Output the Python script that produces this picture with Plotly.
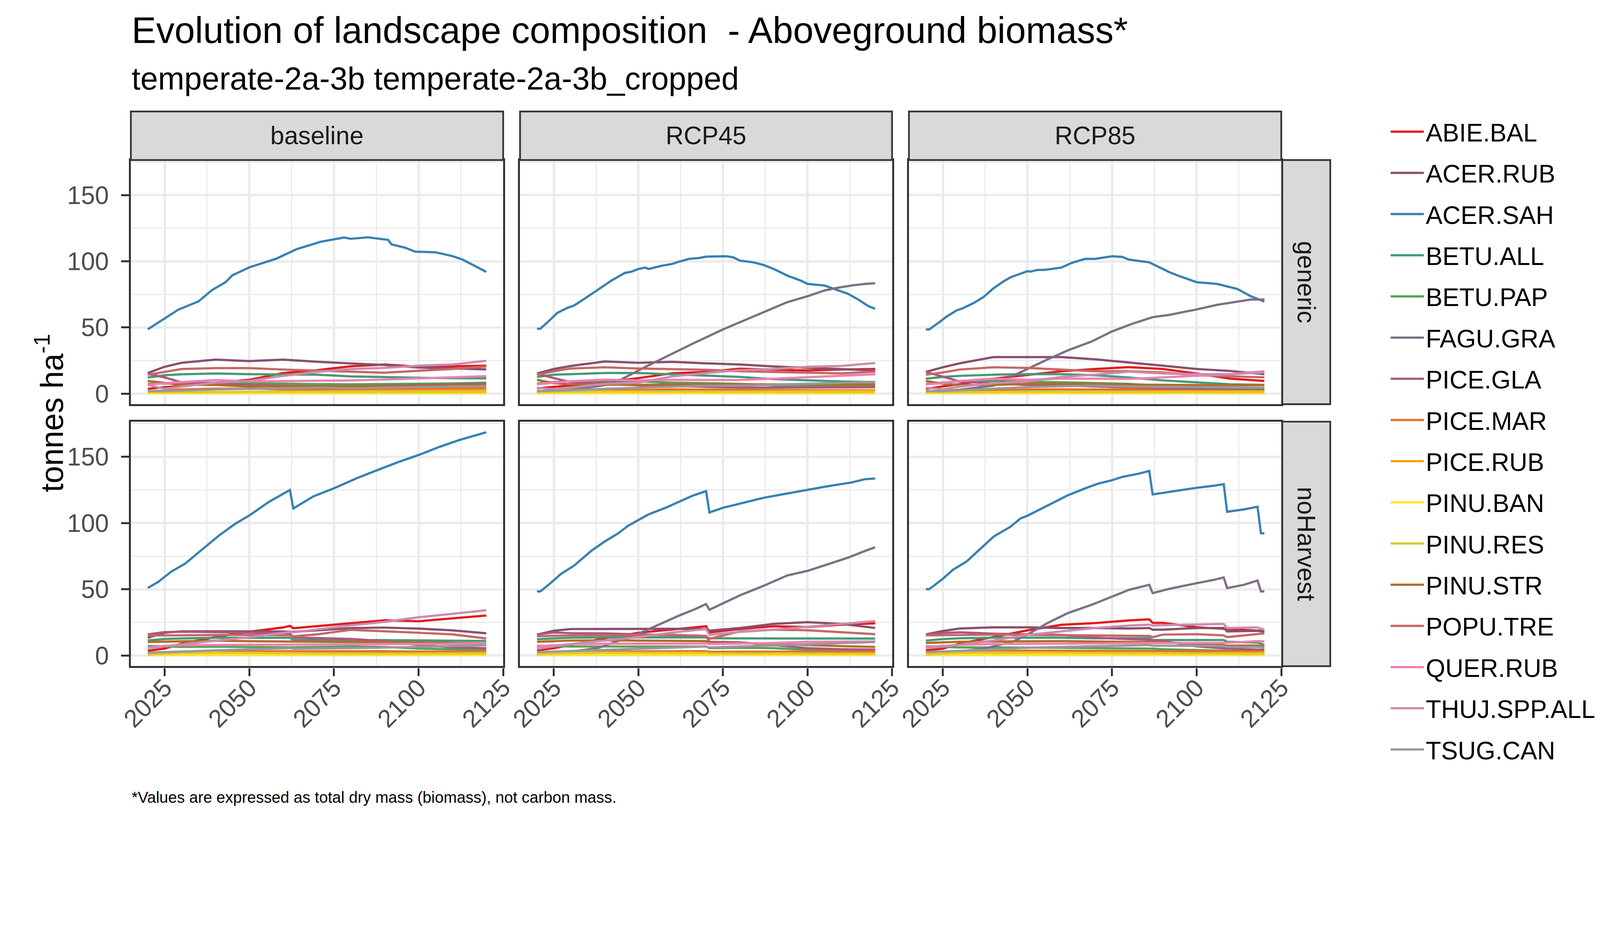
import plotly.graph_objects as go

FONT = "Liberation Sans, Arial, sans-serif"

# target picture is 4800 x 2400 device px; the page seems to render at ~1.138 device px per CSS px
S = 1 / 1.138
W = int(4800 * S) - 20
H = int(2400 * S) - 20

SPECIES = ["ABIE.BAL", "ACER.RUB", "ACER.SAH", "BETU.ALL", "BETU.PAP", "FAGU.GRA",
           "PICE.GLA", "PICE.MAR", "PICE.RUB", "PINU.BAN", "PINU.RES", "PINU.STR",
           "POPU.TRE", "QUER.RUB", "THUJ.SPP.ALL", "TSUG.CAN"]
COLORS = ["#E41A1C", "#884F6F", "#3881B1", "#449B76", "#57A256", "#7F6E85",
          "#AC5782", "#E3712B", "#FFA10E", "#FFE529", "#E1C72F", "#B26C29",
          "#C66764", "#F27EB5", "#CB8CAD", "#999999"]
SCENARIOS = ["baseline", "RCP45", "RCP85"]
MANAGEMENT = ["generic", "noHarvest"]

# ---- baseline / generic ----
years_base_gen = [2020, 2025, 2030, 2040, 2050, 2060, 2070, 2080, 2090, 2100, 2110, 2120]
base_gen = {
    "ABIE.BAL": [3.6, 4.9, 5.7, 8.3, 10.4, 15.6, 17.7, 20.7, 22.0, 20.3, 20.7, 21.1],
    "ACER.RUB": [15.6, 20.3, 23.3, 25.7, 24.6, 25.7, 24.1, 22.9, 21.6, 19.7, 19.2, 18.3],
    "BETU.ALL": [12.2, 13.9, 14.6, 15.2, 14.7, 14.7, 14.3, 13.0, 12.3, 12.0, 11.7, 11.5],
    "BETU.PAP": [7.4, 7.7, 7.9, 8.3, 7.9, 7.4, 7.2, 7.0, 7.2, 7.4, 7.7, 8.3],
    "PICE.GLA": [15.0, 12.2, 8.5, 7.5, 6.5, 6.0, 5.5, 5.5, 6.0, 6.5, 7.0, 7.4],
    "PICE.MAR": [1.5, 2.3, 3.2, 3.8, 3.8, 3.2, 2.9, 2.7, 3.2, 3.4, 3.8, 4.0],
    "PICE.RUB": [0.5, 0.6, 0.8, 1.0, 1.2, 1.3, 1.4, 1.5, 1.7, 2.0, 2.3, 2.6],
    "PINU.BAN": [0.3, 0.3, 0.3, 0.3, 0.3, 0.3, 0.3, 0.3, 0.3, 0.3, 0.3, 0.3],
    "PINU.RES": [1.0, 1.1, 1.3, 1.5, 1.6, 1.5, 1.5, 1.4, 1.4, 1.3, 1.2, 1.2],
    "PINU.STR": [9.6, 7.9, 6.6, 6.6, 5.3, 5.7, 5.7, 5.3, 5.7, 5.7, 6.2, 6.2],
    "POPU.TRE": [14.3, 16.4, 18.6, 19.3, 19.3, 18.2, 17.3, 16.4, 15.8, 17.3, 18.6, 20.5],
    "QUER.RUB": [6.6, 8.0, 8.7, 10.3, 9.2, 9.4, 9.6, 10.0, 10.6, 11.5, 12.3, 13.2],
    "THUJ.SPP.ALL": [6.6, 3.6, 5.3, 8.3, 9.6, 13.4, 16.4, 18.6, 19.4, 21.1, 22.0, 24.8],
    "TSUG.CAN": [1.9, 1.9, 2.3, 3.2, 3.8, 4.0, 4.5, 4.0, 4.5, 4.9, 5.3, 5.7],
}
acer_sah_base_gen_years = [2020, 2024, 2029, 2035, 2039, 2043, 2045, 2050, 2054, 2058, 2064, 2068,
                           2071, 2078, 2080, 2085, 2091, 2092, 2096, 2099, 2105, 2110, 2113, 2120]
acer_sah_base_gen = [48.6, 55.3, 63.4, 69.7, 78.3, 84.2, 89.4, 95.4, 98.8, 102.0, 109.2, 112.5,
                     114.7, 118.0, 117.0, 118.1, 116.2, 112.8, 110.3, 107.3, 106.8, 103.9, 101.3, 92.0]
fagu_gra_base_gen_years = years_base_gen
fagu_gra_base_gen = [0.7, 0.8, 0.9, 1.1, 1.3, 1.5, 1.7, 1.9, 2.1, 2.3, 2.5, 2.7]

# ---- baseline / noHarvest ----
years_base_noh = [2020, 2025, 2030, 2040, 2050, 2060, 2062, 2063, 2070, 2080, 2090, 2100, 2110, 2120]
base_noh = {
    "ABIE.BAL": [3.6, 5.3, 9.0, 14.0, 18.0, 21.2, 22.4, 20.6, 22.2, 24.3, 26.6, 25.9, 28.0, 30.2],
    "ACER.RUB": [13.4, 17.2, 18.3, 18.5, 18.3, 18.1, 18.1, 17.9, 19.0, 20.7, 21.1, 20.3, 19.0, 16.8],
    "BETU.ALL": [11.4, 12.5, 12.9, 13.4, 13.4, 13.4, 13.4, 11.8, 11.6, 11.6, 11.6, 11.4, 11.2, 11.0],
    "BETU.PAP": [7.3, 6.9, 6.5, 6.7, 6.5, 6.5, 6.5, 6.2, 6.5, 6.9, 6.5, 5.3, 4.7, 4.3],
    "PICE.GLA": [16.0, 17.7, 18.0, 17.5, 17.2, 17.0, 16.8, 13.6, 13.3, 12.5, 10.8, 8.0, 6.2, 5.6],
    "PICE.MAR": [1.6, 2.2, 2.6, 3.0, 3.3, 3.3, 3.3, 3.2, 3.3, 3.3, 3.3, 3.0, 3.0, 3.0],
    "PICE.RUB": [0.5, 0.5, 0.6, 0.7, 0.8, 0.9, 0.9, 0.9, 1.0, 1.1, 1.2, 1.5, 1.7, 2.0],
    "PINU.BAN": [0.4, 0.4, 0.4, 0.4, 0.4, 0.4, 0.4, 0.4, 0.4, 0.4, 0.4, 0.4, 0.4, 0.4],
    "PINU.RES": [0.9, 1.3, 1.9, 2.2, 2.2, 2.1, 2.1, 1.8, 1.6, 1.6, 1.6, 1.3, 1.4, 1.5],
    "PINU.STR": [10.2, 10.5, 10.8, 11.2, 10.8, 10.6, 10.5, 10.3, 10.3, 10.2, 10.2, 9.9, 9.5, 9.1],
    "POPU.TRE": [15.1, 15.3, 15.5, 15.5, 15.5, 15.3, 15.3, 14.5, 16.0, 19.4, 18.5, 17.2, 16.0, 12.9],
    "QUER.RUB": [6.2, 7.3, 7.8, 8.2, 8.2, 8.2, 8.2, 8.1, 8.4, 8.6, 8.6, 8.6, 8.8, 9.1],
    "THUJ.SPP.ALL": [5.6, 7.1, 8.6, 11.2, 13.8, 17.2, 17.8, 17.5, 19.8, 22.8, 25.4, 28.9, 31.5, 34.2],
    "TSUG.CAN": [2.2, 2.8, 3.0, 3.9, 4.5, 5.2, 5.6, 5.1, 5.2, 5.6, 6.0, 6.5, 7.1, 7.8],
}
acer_sah_base_noh_years = [2020, 2023, 2027, 2031, 2036, 2041, 2046, 2050, 2056, 2062, 2063, 2069,
                           2075, 2082, 2088, 2094, 2100, 2106, 2112, 2120]
acer_sah_base_noh = [51.0, 55.4, 63.4, 69.3, 79.9, 90.5, 99.7, 105.7, 116.3, 124.9, 111.0, 120.2,
                     126.2, 134.1, 140.1, 146.0, 151.3, 157.3, 162.6, 168.5]
fagu_gra_base_noh_years = years_base_noh
fagu_gra_base_noh = [0.8, 1.0, 1.1, 1.3, 1.5, 1.7, 1.7, 1.6, 1.9, 2.1, 2.3, 2.5, 2.7, 2.9]

# ---- RCP45 / generic ----
years_r45_gen = [2020, 2025, 2030, 2040, 2050, 2060, 2070, 2080, 2090, 2100, 2110, 2120]
r45_gen = {
    "ABIE.BAL": [4.0, 5.3, 6.2, 8.7, 11.7, 15.4, 16.4, 18.8, 18.3, 17.5, 18.2, 18.6],
    "ACER.RUB": [15.2, 18.6, 20.9, 24.3, 23.3, 24.0, 22.9, 22.0, 20.5, 19.4, 18.2, 17.5],
    "BETU.ALL": [12.6, 14.3, 14.7, 15.6, 15.6, 14.7, 13.9, 12.6, 10.9, 10.0, 9.2, 8.7],
    "BETU.PAP": [7.7, 8.7, 9.2, 9.6, 9.2, 8.3, 7.9, 7.4, 6.2, 5.7, 5.7, 6.2],
    "PICE.GLA": [15.2, 11.7, 8.7, 7.4, 6.2, 5.7, 4.9, 4.5, 4.5, 4.5, 4.5, 4.9],
    "PICE.MAR": [1.2, 1.5, 1.9, 2.6, 2.7, 3.2, 3.0, 2.7, 2.7, 2.6, 2.6, 2.6],
    "PICE.RUB": [0.5, 0.6, 0.7, 0.9, 1.1, 1.3, 1.5, 1.7, 1.9, 2.0, 2.2, 2.3],
    "PINU.BAN": [0.3, 0.3, 0.3, 0.3, 0.3, 0.3, 0.3, 0.3, 0.3, 0.3, 0.3, 0.3],
    "PINU.RES": [1.0, 1.3, 1.5, 1.6, 1.5, 1.5, 1.4, 1.3, 1.2, 1.2, 1.2, 1.2],
    "PINU.STR": [10.4, 7.9, 7.0, 6.6, 6.6, 7.0, 7.0, 7.0, 6.6, 6.6, 6.8, 7.0],
    "POPU.TRE": [14.3, 16.9, 19.0, 19.9, 19.0, 18.6, 18.0, 16.9, 16.3, 15.6, 15.3, 16.6],
    "QUER.RUB": [7.0, 8.3, 9.4, 10.6, 10.0, 10.4, 10.4, 10.3, 11.3, 12.3, 13.4, 14.6],
    "THUJ.SPP.ALL": [4.5, 3.2, 4.6, 7.4, 8.3, 13.0, 15.6, 17.7, 18.6, 20.3, 20.9, 23.1],
    "TSUG.CAN": [1.9, 2.1, 2.6, 3.6, 4.5, 5.3, 6.0, 6.0, 6.8, 7.7, 8.3, 8.9],
}
acer_sah_r45_gen_years = [2020, 2021, 2024, 2026, 2029, 2031, 2034, 2038, 2042, 2046, 2048, 2050,
                          2052, 2053, 2057, 2060, 2062, 2065, 2068, 2070, 2073, 2076, 2078, 2080,
                          2084, 2087, 2090, 2094, 2098, 2100, 2105, 2108, 2112, 2115, 2118, 2120]
acer_sah_r45_gen = [49.0, 49.0, 56.0, 61.0, 64.8, 66.6, 71.6, 78.4, 85.4, 91.2, 92.2, 94.2,
                    95.2, 94.2, 96.7, 98.0, 99.7, 101.8, 102.5, 103.5, 103.8, 103.8, 103.0, 100.5,
                    99.2, 97.2, 94.2, 89.2, 85.4, 82.9, 81.7, 79.1, 75.4, 71.1, 66.1, 64.1]
fagu_gra_r45_gen_years = [2020, 2025, 2030, 2035, 2040, 2045, 2052, 2059, 2066, 2075, 2080, 2087,
                          2094, 2100, 2105, 2108, 2113, 2117, 2120]
fagu_gra_r45_gen = [1.5, 2.0, 3.0, 4.5, 6.3, 10.8, 20.1, 28.9, 37.7, 48.5, 54.0, 61.6,
                    69.1, 73.6, 77.9, 79.6, 81.7, 82.9, 83.4]

# ---- RCP45 / noHarvest ----
years_r45_noh = [2020, 2025, 2030, 2040, 2050, 2060, 2070, 2071, 2080, 2090, 2100, 2110, 2120]
r45_noh = {
    "ABIE.BAL": [3.9, 5.6, 8.0, 13.0, 17.2, 19.5, 22.1, 17.4, 20.0, 22.1, 21.5, 23.3, 24.3],
    "ACER.RUB": [15.8, 18.7, 20.0, 20.2, 20.2, 20.2, 20.0, 18.8, 20.8, 23.9, 25.2, 23.9, 20.8],
    "BETU.ALL": [12.3, 13.0, 13.5, 13.7, 13.7, 13.7, 13.7, 13.0, 13.0, 13.0, 13.0, 12.8, 12.8],
    "BETU.PAP": [7.4, 6.9, 6.8, 6.8, 6.9, 6.9, 6.8, 5.6, 5.9, 5.6, 4.3, 3.9, 3.9],
    "PICE.GLA": [16.0, 17.4, 16.9, 16.7, 16.0, 15.2, 14.8, 10.4, 10.0, 7.8, 5.6, 4.8, 4.5],
    "PICE.MAR": [1.7, 2.2, 2.6, 3.0, 3.3, 3.3, 3.3, 2.8, 2.9, 2.9, 2.9, 2.9, 2.9],
    "PICE.RUB": [0.5, 0.5, 0.6, 0.7, 0.8, 0.8, 0.9, 0.8, 0.9, 1.0, 1.1, 1.2, 1.2],
    "PINU.BAN": [0.4, 0.4, 0.4, 0.4, 0.4, 0.4, 0.4, 0.4, 0.4, 0.4, 0.4, 0.4, 0.4],
    "PINU.RES": [1.0, 1.5, 1.9, 2.2, 2.2, 2.1, 2.0, 1.6, 1.6, 1.5, 1.5, 1.4, 1.4],
    "PINU.STR": [10.4, 10.9, 11.3, 11.5, 11.3, 11.1, 10.9, 9.5, 9.4, 8.7, 7.8, 7.1, 6.5],
    "POPU.TRE": [14.6, 14.9, 15.2, 15.2, 15.2, 15.6, 14.8, 12.6, 18.2, 19.5, 19.1, 17.8, 16.1],
    "QUER.RUB": [6.9, 7.8, 8.5, 8.9, 9.1, 9.1, 9.1, 8.7, 9.1, 9.5, 10.4, 10.4, 10.6],
    "THUJ.SPP.ALL": [5.2, 6.9, 8.7, 11.3, 13.9, 17.4, 20.0, 15.6, 17.8, 19.5, 21.7, 23.9, 26.0],
    "TSUG.CAN": [2.6, 3.0, 3.5, 4.5, 5.2, 5.9, 6.8, 6.1, 6.9, 7.8, 8.7, 9.5, 10.2],
}
acer_sah_r45_noh_years = [2020, 2021, 2024, 2027, 2031, 2034, 2036, 2040, 2044, 2047, 2050, 2053,
                          2058, 2062, 2066, 2070, 2071, 2075, 2080, 2087, 2094, 2100, 2105, 2108,
                          2113, 2117, 2120]
acer_sah_r45_noh = [48.4, 48.4, 54.6, 61.4, 67.9, 74.7, 78.9, 86.0, 92.2, 98.0, 102.3, 106.5,
                    111.5, 116.0, 120.6, 124.1, 108.0, 111.5, 114.8, 119.0, 122.3, 124.8, 127.3, 128.6,
                    130.6, 133.1, 133.6]
fagu_gra_r45_noh_years = [2020, 2025, 2030, 2038, 2045, 2050, 2056, 2062, 2067, 2070, 2071, 2075,
                          2080, 2087, 2094, 2100, 2105, 2112, 2117, 2120]
fagu_gra_r45_noh = [1.5, 2.0, 3.0, 5.6, 12.0, 16.5, 23.3, 30.1, 35.3, 38.8, 34.6, 39.6,
                    45.4, 52.6, 60.4, 63.9, 67.9, 73.9, 78.9, 81.7]

# ---- RCP85 / generic ----
years_r85_gen = [2020, 2025, 2030, 2040, 2050, 2060, 2070, 2080, 2090, 2100, 2110, 2120]
r85_gen = {
    "ABIE.BAL": [3.6, 5.3, 7.2, 11.3, 13.9, 16.9, 18.6, 20.0, 18.6, 15.2, 11.3, 9.6],
    "ACER.RUB": [16.4, 19.9, 22.9, 27.6, 27.6, 27.6, 25.9, 23.7, 21.1, 18.6, 17.1, 14.7],
    "BETU.ALL": [11.3, 12.6, 13.4, 14.3, 14.7, 14.7, 13.9, 12.2, 10.0, 8.3, 7.0, 6.6],
    "BETU.PAP": [7.4, 8.3, 9.2, 9.6, 9.2, 8.7, 8.0, 7.4, 5.7, 4.5, 3.6, 3.2],
    "PICE.GLA": [16.4, 13.0, 9.2, 7.7, 6.6, 6.2, 5.3, 4.5, 3.8, 3.2, 2.6, 2.3],
    "PICE.MAR": [1.2, 1.5, 2.0, 2.8, 3.0, 3.2, 3.2, 3.0, 2.5, 2.0, 1.8, 1.6],
    "PICE.RUB": [0.5, 0.6, 0.7, 0.9, 1.1, 1.3, 1.4, 1.5, 1.6, 1.7, 1.8, 1.8],
    "PINU.BAN": [0.3, 0.3, 0.3, 0.3, 0.3, 0.3, 0.3, 0.3, 0.3, 0.3, 0.3, 0.3],
    "PINU.RES": [1.0, 1.1, 1.3, 1.5, 1.5, 1.4, 1.3, 1.2, 1.1, 1.0, 1.0, 1.0],
    "PINU.STR": [9.6, 7.4, 6.6, 6.6, 7.4, 7.4, 7.2, 6.8, 6.6, 6.3, 6.3, 6.6],
    "POPU.TRE": [14.3, 16.0, 18.2, 19.9, 19.4, 18.2, 16.9, 16.9, 16.0, 13.9, 13.0, 12.3],
    "QUER.RUB": [7.0, 7.9, 9.6, 11.3, 10.4, 11.3, 11.3, 11.1, 12.3, 13.4, 14.7, 16.9],
    "THUJ.SPP.ALL": [4.5, 3.2, 5.3, 7.9, 9.2, 12.6, 14.3, 16.6, 15.2, 14.7, 14.7, 16.0],
    "TSUG.CAN": [1.9, 1.9, 2.6, 3.8, 4.9, 5.5, 6.0, 5.3, 5.1, 4.6, 4.6, 4.6],
}
acer_sah_r85_gen_years = [2020, 2021, 2024, 2026, 2029, 2031, 2034, 2037, 2040, 2043, 2045, 2048,
                          2050, 2051, 2053, 2055, 2060, 2063, 2067, 2070, 2073, 2075, 2078, 2080,
                          2086, 2088, 2092, 2095, 2100, 2106, 2112, 2116, 2120]
acer_sah_r85_gen = [48.5, 48.5, 54.0, 58.0, 62.8, 64.6, 68.3, 72.9, 79.6, 84.9, 87.9, 90.5,
                    92.5, 92.2, 93.5, 93.5, 95.2, 98.7, 101.8, 101.8, 103.0, 103.8, 103.3, 101.3,
                    99.2, 96.7, 91.7, 88.7, 84.2, 82.9, 79.1, 73.6, 69.6]
fagu_gra_r85_gen_years = [2020, 2025, 2030, 2035, 2040, 2046, 2050, 2056, 2062, 2069, 2075, 2081,
                          2087, 2092, 2095, 2100, 2106, 2112, 2116, 2120]
fagu_gra_r85_gen = [1.5, 2.0, 3.0, 4.3, 6.0, 13.8, 18.8, 25.9, 32.7, 39.4, 47.0, 52.8,
                    57.8, 59.5, 61.1, 63.6, 67.1, 69.6, 71.1, 71.1]

# ---- RCP85 / noHarvest ----
years_r85_noh = [2020, 2025, 2030, 2040, 2050, 2060, 2070, 2080, 2086, 2087, 2090, 2100,
                 2108, 2109, 2118, 2120]
r85_noh = {
    "ABIE.BAL": [3.9, 5.2, 9.0, 14.0, 19.0, 23.2, 24.5, 26.5, 27.3, 24.7, 24.7, 21.4, 20.5, 20.0, 18.8, 18.5],
    "ACER.RUB": [16.0, 18.5, 20.4, 21.3, 21.3, 20.8, 20.8, 20.4, 20.8, 19.5, 19.5, 20.8, 20.8, 18.2, 18.7, 17.9],
    "BETU.ALL": [11.3, 12.4, 13.0, 13.5, 13.5, 13.5, 13.0, 13.0, 13.0, 11.7, 11.7, 11.7, 11.7, 10.4, 9.8, 8.0],
    "BETU.PAP": [7.1, 6.5, 6.1, 6.1, 6.1, 5.9, 5.6, 5.6, 5.6, 5.2, 4.8, 4.3, 3.8, 3.5, 3.6, 3.5],
    "PICE.GLA": [16.0, 17.0, 17.5, 16.5, 16.0, 15.6, 13.5, 12.6, 11.8, 11.3, 11.0, 6.9, 5.5, 5.2, 4.5, 4.3],
    "PICE.MAR": [1.7, 2.2, 2.6, 3.3, 3.7, 3.7, 3.7, 3.6, 3.6, 3.5, 3.5, 3.3, 3.1, 3.0, 3.0, 3.0],
    "PICE.RUB": [0.5, 0.5, 0.6, 0.8, 0.9, 1.0, 1.1, 1.2, 1.3, 1.3, 1.4, 1.6, 1.8, 1.7, 2.0, 2.0],
    "PINU.BAN": [0.4, 0.4, 0.4, 0.4, 0.4, 0.4, 0.4, 0.4, 0.4, 0.4, 0.4, 0.4, 0.4, 0.4, 0.4, 0.4],
    "PINU.RES": [1.0, 1.5, 2.0, 2.3, 2.3, 2.2, 2.0, 1.8, 1.7, 1.6, 1.6, 1.4, 1.4, 1.3, 1.4, 1.4],
    "PINU.STR": [9.5, 10.0, 10.4, 10.6, 10.9, 10.9, 10.6, 10.4, 10.3, 10.0, 10.0, 8.5, 8.0, 7.4, 7.6, 6.6],
    "POPU.TRE": [15.2, 15.4, 15.6, 15.8, 15.6, 15.4, 14.9, 14.6, 14.8, 13.9, 15.8, 16.1, 15.2, 13.9, 16.5, 16.7],
    "QUER.RUB": [6.5, 7.3, 8.0, 8.7, 8.7, 8.9, 9.1, 9.3, 9.4, 9.3, 9.5, 9.7, 9.9, 9.6, 10.9, 10.7],
    "THUJ.SPP.ALL": [5.4, 6.6, 8.2, 11.3, 15.6, 18.2, 20.8, 22.6, 23.3, 22.6, 23.0, 23.4, 23.9, 20.8, 21.2, 19.5],
    "TSUG.CAN": [2.6, 3.0, 3.5, 4.5, 5.9, 6.5, 7.1, 7.8, 7.9, 7.4, 7.4, 7.4, 7.2, 6.5, 6.5, 6.0],
}
acer_sah_r85_noh_years = [2020, 2021, 2025, 2028, 2032, 2036, 2040, 2045, 2048, 2050, 2055, 2059,
                          2062, 2067, 2071, 2075, 2078, 2083, 2086, 2087, 2092, 2095, 2100, 2105,
                          2108, 2109, 2114, 2118, 2119, 2120]
acer_sah_r85_noh = [50.1, 50.1, 57.9, 64.7, 70.9, 80.5, 89.7, 97.2, 103.5, 105.5, 111.8, 116.8,
                    121.0, 126.1, 129.8, 132.3, 134.8, 137.3, 139.3, 121.6, 123.6, 124.8, 126.6, 128.1,
                    129.3, 108.5, 110.3, 112.3, 92.2, 92.2]
fagu_gra_r85_noh_years = [2020, 2025, 2030, 2038, 2046, 2050, 2056, 2062, 2069, 2075, 2080, 2086,
                          2087, 2092, 2095, 2100, 2105, 2108, 2109, 2114, 2118, 2119, 2120]
fagu_gra_r85_noh = [1.5, 2.0, 3.0, 5.6, 10.8, 15.8, 24.6, 32.1, 38.3, 44.6, 49.6, 53.4,
                    47.1, 50.4, 52.1, 54.6, 57.1, 58.9, 50.9, 53.4, 56.6, 48.4, 48.4]

# panel order: row (management) x column (scenario)
PANELS = [
    (years_base_gen, base_gen, (acer_sah_base_gen_years, acer_sah_base_gen), (fagu_gra_base_gen_years, fagu_gra_base_gen)),
    (years_r45_gen, r45_gen, (acer_sah_r45_gen_years, acer_sah_r45_gen), (fagu_gra_r45_gen_years, fagu_gra_r45_gen)),
    (years_r85_gen, r85_gen, (acer_sah_r85_gen_years, acer_sah_r85_gen), (fagu_gra_r85_gen_years, fagu_gra_r85_gen)),
    (years_base_noh, base_noh, (acer_sah_base_noh_years, acer_sah_base_noh), (fagu_gra_base_noh_years, fagu_gra_base_noh)),
    (years_r45_noh, r45_noh, (acer_sah_r45_noh_years, acer_sah_r45_noh), (fagu_gra_r45_noh_years, fagu_gra_r45_noh)),
    (years_r85_noh, r85_noh, (acer_sah_r85_noh_years, acer_sah_r85_noh), (fagu_gra_r85_noh_years, fagu_gra_r85_noh)),
]

# panel geometry in target (device) pixels
COL_PX = [(349, 1451), (1501, 2602), (2652, 3754)]
ROW_PX = [(468, 1182), (1233, 1948)]
STRIP_TOP = (326, 468)
STRIP_RIGHT = (3757, 3899)


def sz(p):
    return p * S


def px_x(p):
    return (p * S - 8) / W


def px_y(p):
    return 1 - (p * S - 8) / H


fig = go.Figure()

for k, (years, minor, acer, fagu) in enumerate(PANELS):
    r, c = divmod(k, 3)
    suffix = "" if k == 0 else str(k + 1)
    for sp, col in zip(SPECIES, COLORS):
        if sp == "ACER.SAH":
            xs, ys = acer
        elif sp == "FAGU.GRA":
            xs, ys = fagu
        else:
            xs, ys = years, minor[sp]
        fig.add_trace(go.Scatter(
            x=xs, y=ys, mode="lines", name=sp,
            line=dict(color=col, width=sz(6.5)),
            legendgroup=sp, showlegend=(k == 0),
            xaxis="x" + suffix, yaxis="y" + suffix,
            hovertemplate=f"<b>{sp}</b><br>%{{x}}: %{{y}}<extra></extra>",
        ))

    x0, x1 = COL_PX[c]
    y0, y1 = ROW_PX[r]
    bottom = (r == 1)
    left = (c == 0)
    fig.layout["xaxis" + suffix] = dict(
        domain=[px_x(x0), px_x(x1)], anchor="y" + suffix,
        range=[2015, 2125], tick0=2025, dtick=25,
        showgrid=True, gridcolor="#EBEBEB", gridwidth=sz(6.5),
        minor=dict(tick0=2025, dtick=12.5, showgrid=True, gridcolor="#EBEBEB", gridwidth=sz(3.3)),
        showline=True, mirror=True, linecolor="#333333", linewidth=sz(6),
        zeroline=False,
        ticks="outside" if bottom else "", ticklen=sz(23), tickwidth=sz(6), tickcolor="#333333",
        showticklabels=bottom, tickangle=-45, ticklabelstandoff=-int(round(sz(38))),
        tickfont=dict(family=FONT, size=sz(73), color="#4D4D4D"),
    )
    fig.layout["yaxis" + suffix] = dict(
        domain=[px_y(y1), px_y(y0)], anchor="x" + suffix,
        range=[-8.0, 176.5], tick0=0, dtick=50,
        showgrid=True, gridcolor="#EBEBEB", gridwidth=sz(6.5),
        minor=dict(tick0=0, dtick=25, showgrid=True, gridcolor="#EBEBEB", gridwidth=sz(3.3)),
        showline=True, mirror=True, linecolor="#333333", linewidth=sz(6),
        zeroline=False,
        ticks="outside" if left else "", ticklen=sz(23), tickwidth=sz(6), tickcolor="#333333",
        showticklabels=left, ticklabelstandoff=int(round(sz(20))),
        tickfont=dict(family=FONT, size=sz(73), color="#4D4D4D"),
    )

shapes = []
annotations = []
strip_style = dict(type="rect", xref="paper", yref="paper", fillcolor="#D9D9D9",
                   line=dict(color="#333333", width=sz(5)), layer="above")
for c, (x0, x1) in enumerate(COL_PX):
    shapes.append(dict(strip_style, x0=px_x(x0), x1=px_x(x1),
                       y0=px_y(STRIP_TOP[1]), y1=px_y(STRIP_TOP[0])))
    annotations.append(dict(text=SCENARIOS[c], xref="paper", yref="paper",
                            x=px_x((x0 + x1) / 2), y=px_y(sum(STRIP_TOP) / 2),
                            showarrow=False, xanchor="center", yanchor="middle",
                            font=dict(family=FONT, size=sz(73), color="#1A1A1A")))
for r, (y0, y1) in enumerate(ROW_PX):
    shapes.append(dict(strip_style, x0=px_x(STRIP_RIGHT[0]), x1=px_x(STRIP_RIGHT[1]),
                       y0=px_y(y1), y1=px_y(y0)))
    annotations.append(dict(text=MANAGEMENT[r], xref="paper", yref="paper",
                            x=px_x(sum(STRIP_RIGHT) / 2), y=px_y((y0 + y1) / 2),
                            showarrow=False, textangle=90, xanchor="center", yanchor="middle",
                            font=dict(family=FONT, size=sz(73), color="#1A1A1A")))

annotations += [
    dict(text="Evolution of landscape composition  - Aboveground biomass*",
         xref="paper", yref="paper", x=px_x(349), y=px_y(89), xanchor="left", yanchor="middle",
         showarrow=False, font=dict(family=FONT, size=sz(107), color="black")),
    dict(text="temperate-2a-3b temperate-2a-3b_cropped",
         xref="paper", yref="paper", x=px_x(349), y=px_y(230), xanchor="left", yanchor="middle",
         showarrow=False, font=dict(family=FONT, size=sz(92), color="black")),
    dict(text="tonnes ha<sup>-1</sup>", xref="paper", yref="paper",
         x=px_x(108), y=px_y((ROW_PX[0][0] + ROW_PX[1][1]) / 2), textangle=-90,
         xanchor="center", yanchor="middle", showarrow=False,
         font=dict(family=FONT, size=sz(92), color="black")),
    dict(text="*Values are expressed as total dry mass (biomass), not carbon mass.",
         xref="paper", yref="paper", x=px_x(349), y=px_y(2332), xanchor="left", yanchor="middle",
         showarrow=False, font=dict(family=FONT, size=sz(46), color="black")),
]

fig.update_layout(
    width=W, height=H,
    margin=dict(l=0, r=0, t=0, b=0, pad=0),
    plot_bgcolor="white", paper_bgcolor="white",
    font=dict(family=FONT, color="black"),
    shapes=shapes, annotations=annotations,
    showlegend=True,
    legend=dict(x=px_x(4072), xanchor="left", y=px_y(330), yanchor="top",
                font=dict(family=FONT, size=sz(73), color="black"),
                tracegroupgap=sz(21.6), bgcolor="rgba(0,0,0,0)", itemwidth=85),
    hovermode="closest",
)

fig.write_html("out.html")
